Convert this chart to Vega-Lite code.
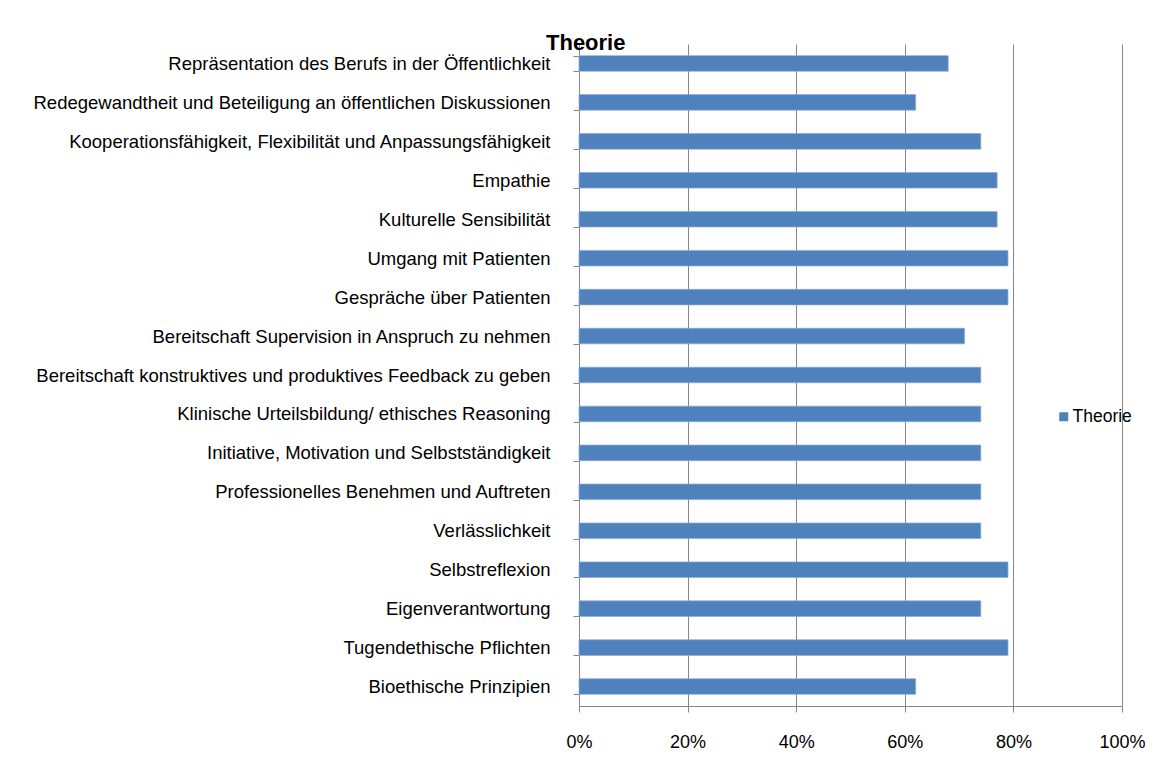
{
  "$schema": "https://vega.github.io/schema/vega-lite/v6.json",
  "autosize": "none",
  "padding": {"left": 579, "top": 44, "right": 43, "bottom": 56},
  "width": 543,
  "height": 662,
  "background": "white",
  "title": {
    "text": "Theorie",
    "anchor": "start",
    "frame": "group",
    "font": "Liberation Sans",
    "fontSize": 22,
    "fontWeight": "bold",
    "color": "black",
    "baseline": "alphabetic",
    "offset": 0,
    "dx": -33,
    "dy": 37
  },
  "data": {
    "values": [
      {"Kompetenz": "Repräsentation des Berufs in der Öffentlichkeit", "Anteil": 0.68, "Serie": "Theorie"},
      {"Kompetenz": "Redegewandtheit und Beteiligung an öffentlichen Diskussionen", "Anteil": 0.62, "Serie": "Theorie"},
      {"Kompetenz": "Kooperationsfähigkeit, Flexibilität und Anpassungsfähigkeit", "Anteil": 0.74, "Serie": "Theorie"},
      {"Kompetenz": "Empathie", "Anteil": 0.77, "Serie": "Theorie"},
      {"Kompetenz": "Kulturelle Sensibilität", "Anteil": 0.77, "Serie": "Theorie"},
      {"Kompetenz": "Umgang mit Patienten", "Anteil": 0.79, "Serie": "Theorie"},
      {"Kompetenz": "Gespräche über Patienten", "Anteil": 0.79, "Serie": "Theorie"},
      {"Kompetenz": "Bereitschaft Supervision in Anspruch zu nehmen", "Anteil": 0.71, "Serie": "Theorie"},
      {"Kompetenz": "Bereitschaft konstruktives und produktives Feedback zu geben", "Anteil": 0.74, "Serie": "Theorie"},
      {"Kompetenz": "Klinische Urteilsbildung/ ethisches Reasoning", "Anteil": 0.74, "Serie": "Theorie"},
      {"Kompetenz": "Initiative, Motivation und Selbstständigkeit", "Anteil": 0.74, "Serie": "Theorie"},
      {"Kompetenz": "Professionelles Benehmen und Auftreten", "Anteil": 0.74, "Serie": "Theorie"},
      {"Kompetenz": "Verlässlichkeit", "Anteil": 0.74, "Serie": "Theorie"},
      {"Kompetenz": "Selbstreflexion", "Anteil": 0.79, "Serie": "Theorie"},
      {"Kompetenz": "Eigenverantwortung", "Anteil": 0.74, "Serie": "Theorie"},
      {"Kompetenz": "Tugendethische Pflichten", "Anteil": 0.79, "Serie": "Theorie"},
      {"Kompetenz": "Bioethische Prinzipien", "Anteil": 0.62, "Serie": "Theorie"}
    ]
  },
  "mark": {"type": "bar", "stroke": "#8AAAD6", "strokeWidth": 0.7},
  "encoding": {
    "y": {
      "field": "Kompetenz",
      "type": "nominal",
      "sort": null,
      "title": null,
      "scale": {"paddingInner": 0.6, "paddingOuter": 0.3},
      "axis": {
        "tickBand": "extent",
        "tickSize": 6,
        "tickColor": "#868686",
        "domainColor": "#868686",
        "grid": false,
        "labelFont": "Liberation Sans",
        "labelFontSize": 18.5,
        "labelColor": "black",
        "labelPadding": 23,
        "labelLimit": 600
      }
    },
    "x": {
      "field": "Anteil",
      "type": "quantitative",
      "title": null,
      "scale": {"domain": [0, 1]},
      "axis": {
        "format": ".0%",
        "values": [0, 0.2, 0.4, 0.6, 0.8, 1],
        "grid": true,
        "gridColor": "#868686",
        "tickSize": 6,
        "tickColor": "#868686",
        "domainColor": "#868686",
        "labelFont": "Liberation Sans",
        "labelFontSize": 18,
        "labelColor": "black",
        "labelPadding": 21,
        "labelFlush": false
      }
    },
    "color": {
      "field": "Serie",
      "type": "nominal",
      "scale": {"range": ["#4F81BD"]},
      "legend": {
        "title": null,
        "orient": "none",
        "legendX": 476,
        "legendY": 364,
        "symbolType": "square",
        "symbolSize": 81,
        "symbolStrokeWidth": 0,
        "labelFont": "Liberation Sans",
        "labelFontSize": 17.5,
        "labelColor": "black",
        "labelOffset": 0
      }
    }
  },
  "config": {
    "view": {"stroke": null}
  }
}
